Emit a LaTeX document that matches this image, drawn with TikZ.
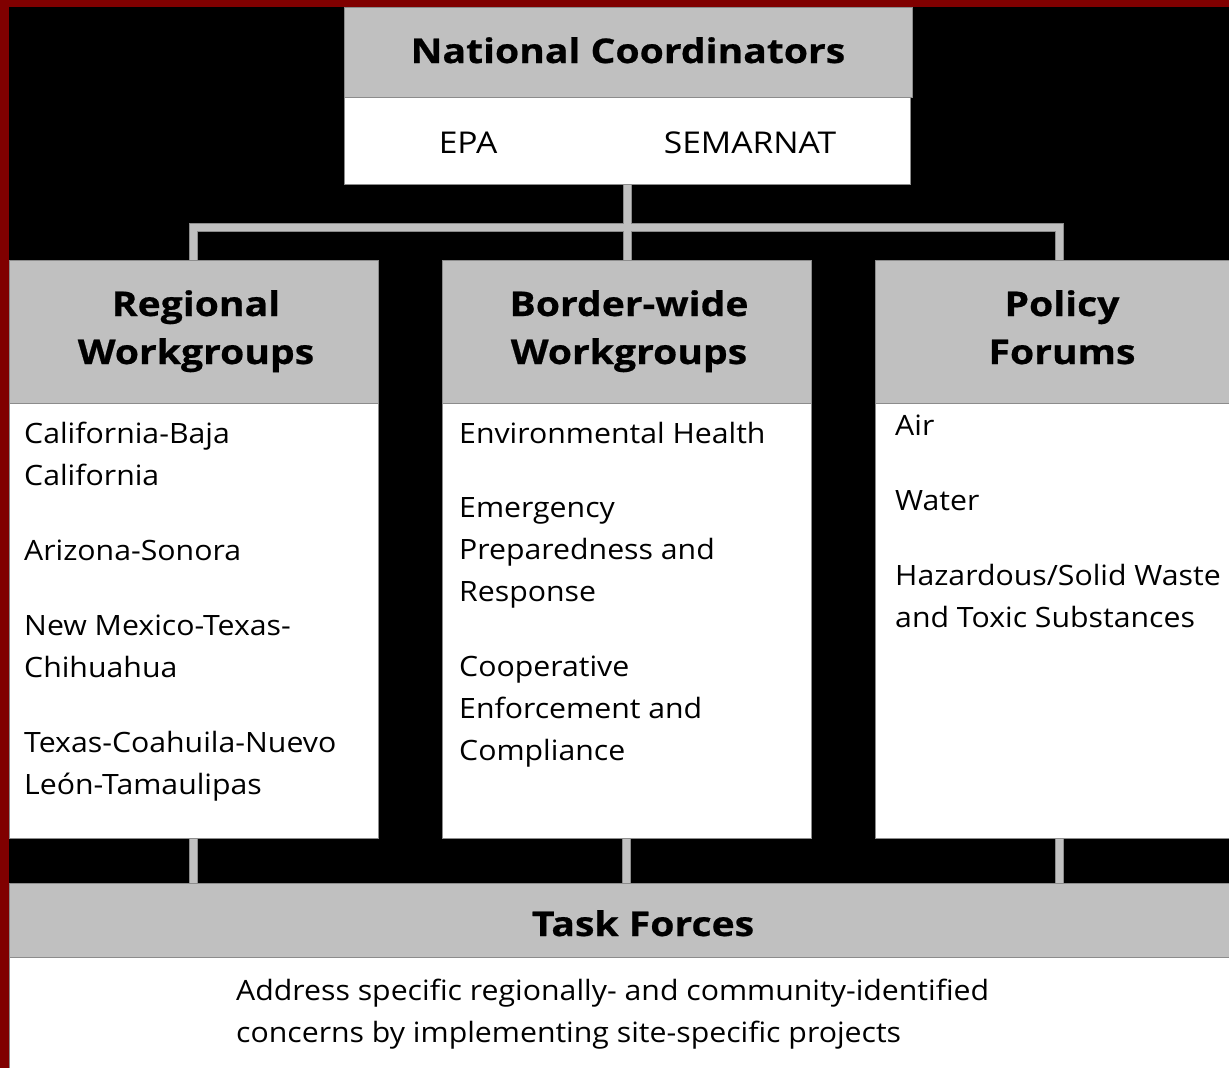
\documentclass[tikz,border=0pt]{standalone}
\usepackage{fontspec}
\setmainfont{Open Sans}
\newfontfamily\bodyfam[FakeStretch=1.08]{Open Sans}
\newfontfamily\capfam[FakeStretch=1.12]{Open Sans}
\newfontfamily\headfam[FakeStretch=1.15, BoldFeatures={FakeBold=0.6}]{Open Sans}
\definecolor{hdr}{HTML}{C0C0C0}
\definecolor{frame}{HTML}{800000}
\definecolor{edge}{HTML}{8C8C8C}
\newcommand\hdfont{\headfam\fontsize{34}{48}\selectfont\bfseries}
\newcommand\bdfont{\bodyfam\fontsize{28}{42}\selectfont}
\newcommand\capfont{\capfam\fontsize{30}{42}\selectfont}
\tikzset{
  boxnode/.style={rectangle, draw=edge, line width=0.8pt, inner sep=0pt, outer sep=0pt, anchor=north west},
  hbox/.style={boxnode, fill=hdr},
  wbox/.style={boxnode, fill=white},
  connout/.style={draw=edge, line width=9pt},
  connin/.style={draw=hdr, line width=7pt},
  htext/.style={anchor=base, inner sep=0pt, font=\hdfont},
  btext/.style={anchor=base west, inner sep=0pt, font=\bdfont},
}
\begin{document}
\begin{tikzpicture}[x=1pt,y=-1pt]
\useasboundingbox (0,0) rectangle (1229,1068);
\clip (0,0) rectangle (1229,1068);
\fill[frame] (0,0) rectangle (1229,1068);
\fill[black] (9,7) rectangle (1300,1100);

% boxes (positions)
\node[hbox, minimum width=568pt, minimum height=90pt] (nch) at (344,7) {};
\node[wbox, minimum width=566pt, minimum height=87pt] (ncb) at (344,97) {};
\node[hbox, minimum width=369pt, minimum height=143pt] (rwh) at (9,260) {};
\node[wbox, minimum width=369pt, minimum height=435pt] (rwb) at (9,403) {};
\node[hbox, minimum width=369pt, minimum height=143pt] (bwh) at (442,260) {};
\node[wbox, minimum width=369pt, minimum height=435pt] (bwb) at (442,403) {};
\node[hbox, minimum width=369pt, minimum height=143pt] (pfh) at (875,260) {};
\node[wbox, minimum width=369pt, minimum height=435pt] (pfb) at (875,403) {};
\node[hbox, minimum width=1240pt, minimum height=74pt] (tfh) at (9,883) {};
\node[wbox, minimum width=1240pt, minimum height=130pt] (tfb) at (9,957) {};
\coordinate (hub) at (627,227.5);

% connectors
\foreach \s in {connout,connin}{
  \draw[style=\s] (ncb.south) -- (ncb.south |- bwh.north);
  \draw[style=\s] (rwh.north) |- (hub) -| (pfh.north);
  \draw[style=\s] (rwb.south) -- (rwb.south |- tfh.north);
  \draw[style=\s] (bwb.south) -- (bwb.south |- tfh.north);
  \draw[style=\s] (pfb.south) -- (pfb.south |- tfh.north);
}

% redraw boxes over connectors
\node[hbox, minimum width=568pt, minimum height=90pt] (nch2) at (344,7) {};
\node[wbox, minimum width=566pt, minimum height=87pt] (ncb2) at (344,97) {};
\node[hbox, minimum width=369pt, minimum height=143pt] (rwh2) at (9,260) {};
\node[wbox, minimum width=369pt, minimum height=435pt] (rwb2) at (9,403) {};
\node[hbox, minimum width=369pt, minimum height=143pt] (bwh2) at (442,260) {};
\node[wbox, minimum width=369pt, minimum height=435pt] (bwb2) at (442,403) {};
\node[hbox, minimum width=369pt, minimum height=143pt] (pfh2) at (875,260) {};
\node[wbox, minimum width=369pt, minimum height=435pt] (pfb2) at (875,403) {};
\node[hbox, minimum width=1240pt, minimum height=74pt] (tfh2) at (9,883) {};
\node[wbox, minimum width=1240pt, minimum height=130pt] (tfb2) at (9,957) {};

% header texts
\node[htext] (nct) at (628,63) {National Coordinators};
\node[htext, font=\capfont] (epa) at (468,153) {EPA};
\node[htext, font=\capfont] (sem) at (750,153) {SEMARNAT};
\node[htext] (rw1) at (196,316) {Regional};
\node[htext] (rw2) at (196,364) {Workgroups};
\node[htext] (bw1) at (629,316) {Border-wide};
\node[htext] (bw2) at (629,364) {Workgroups};
\node[htext] (pf1) at (1062,316) {Policy};
\node[htext] (pf2) at (1062,364) {Forums};
\node[htext] (tft) at (643,936) {Task Forces};

% body texts
\node[btext] (l1) at (24,443) {California-Baja};
\node[btext] (l2) at (24,485) {California};
\node[btext] (l3) at (24,560) {Arizona-Sonora};
\node[btext] (l4) at (24,635) {New Mexico-Texas-};
\node[btext] (l5) at (24,677) {Chihuahua};
\node[btext] (l6) at (24,752) {Texas-Coahuila-Nuevo};
\node[btext] (l7) at (24,794) {León-Tamaulipas};

\node[btext] (m1) at (459,443) {Environmental Health};
\node[btext] (m2) at (459,517) {Emergency};
\node[btext] (m3) at (459,559) {Preparedness and};
\node[btext] (m4) at (459,601) {Response};
\node[btext] (m5) at (459,676) {Cooperative};
\node[btext] (m6) at (459,718) {Enforcement and};
\node[btext] (m7) at (459,760) {Compliance};

\node[btext] (p1) at (895,435) {Air};
\node[btext] (p2) at (895,510) {Water};
\node[btext] (p3) at (895,585) {Hazardous/Solid Waste};
\node[btext] (p4) at (895,627) {and Toxic Substances};

\node[btext] (t1) at (236,1000) {Address specific regionally- and community-identified};
\node[btext] (t2) at (236,1042) {concerns by implementing site-specific projects};
\end{tikzpicture}
\end{document}
